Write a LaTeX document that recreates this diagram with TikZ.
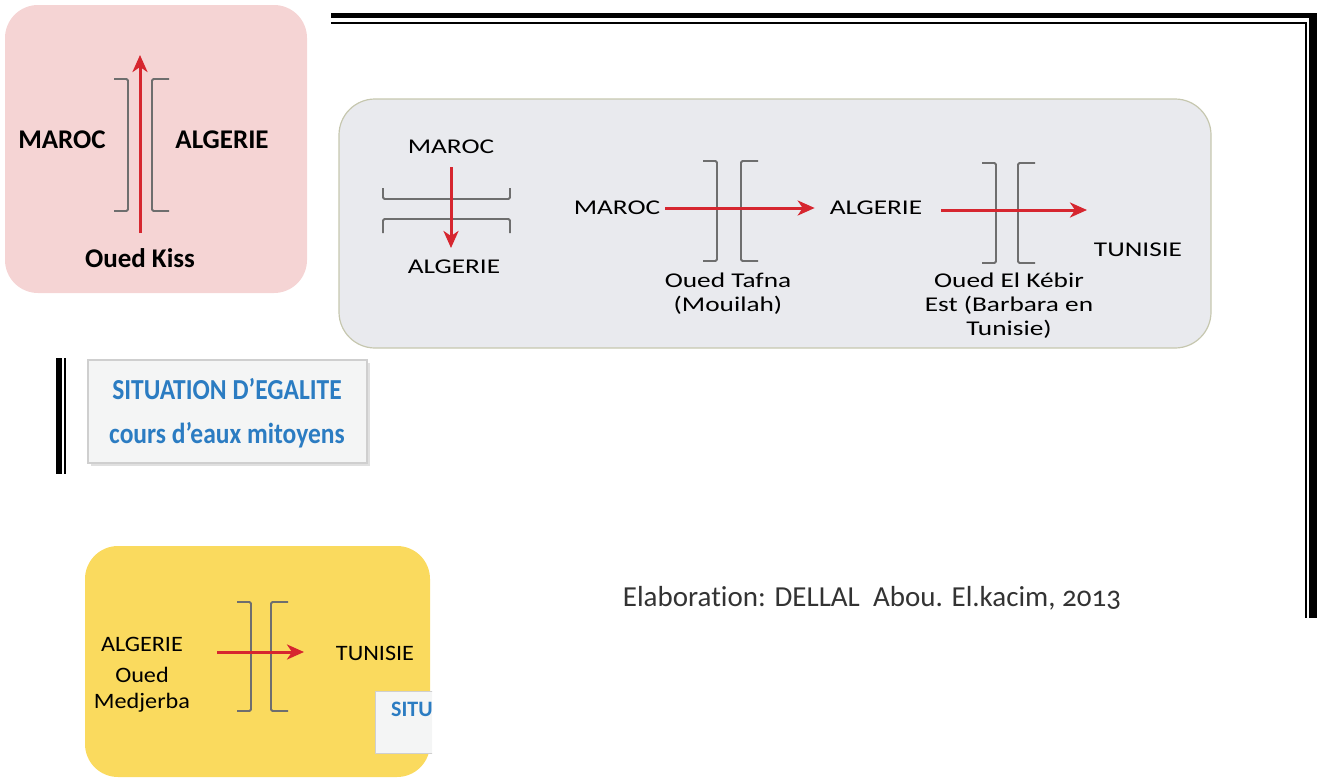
\documentclass[tikz,border=0pt]{standalone}
\usepackage{fontspec}
\setmainfont[Ligatures=CommonOff]{Carlito}
\newfontfamily\widefont[FakeStretch=1.3,Ligatures=CommonOff]{Carlito}
\newfontfamily\yellowfont[FakeStretch=1.1,Ligatures=CommonOff]{Carlito}
\newfontfamily\narrowfont[FakeStretch=0.88,Ligatures=CommonOff]{Carlito}
\newfontfamily\oldnumfont[Numbers=OldStyle,Ligatures=CommonOff]{Carlito}
\usetikzlibrary{arrows.meta}
\definecolor{kisspink}{HTML}{F5D4D4}
\definecolor{panelgrey}{HTML}{E9EAEE}
\definecolor{panelrim}{HTML}{C6C7AF}
\definecolor{sunyellow}{HTML}{FADA5E}
\definecolor{riverred}{HTML}{D6262F}
\definecolor{bankgrey}{HTML}{6E6E6E}
\definecolor{titleblue}{HTML}{2B7CC2}
\definecolor{cardwhite}{HTML}{F4F5F5}
\definecolor{cardrim}{HTML}{CFCFCF}
\begin{document}
\begin{tikzpicture}[x=1pt,y=-1pt,
  panel/.style={rounded corners=33pt},
  bold/.style={font=\bfseries\fontsize{27}{30}\selectfont,inner sep=0pt},
  lbl/.style={font=\widefont\fontsize{21}{24}\selectfont,align=center,inner sep=0pt},
  ylbl/.style={font=\yellowfont\fontsize{22}{26}\selectfont,align=center,inner sep=0pt},
  title/.style={font=\narrowfont\bfseries\fontsize{29}{32}\selectfont,text=titleblue,inner sep=0pt},
  flow/.style={draw=riverred,line width=3pt,-{Stealth[length=17pt,width=15pt,inset=5pt]}},
  bank/.style={draw=bankgrey,line width=1.8pt,rounded corners=1.5pt},
  card/.style={fill=cardwhite,draw=cardrim,line width=1.5pt}]
\useasboundingbox (0,0) rectangle (1319,779);
\fill (331,12.5) rectangle (1317,17.5);
\fill (1309,12.5) rectangle (1317,618);
\fill (331,21.5) rectangle (1307,23.5);
\fill (1305,21.5) rectangle (1307,618);
\fill (56,358) rectangle (62,474);
\fill (63.5,358) rectangle (65.5,474);
\fill[kisspink,panel] (5,5) rectangle (307,293);
\filldraw[fill=panelgrey,draw=panelrim,line width=1.2pt,rounded corners=36pt] (339,99) rectangle (1211,348);
\fill[sunyellow,panel] (85,546) rectangle (430,777);
\foreach \l/\r/\t/\b in {128/152/79/211,717/741/161/261,996/1018/163/263,251/271/602/711}{
  \draw[bank] (\l-14,\t) -- (\l,\t) -- (\l,\b) -- (\l-14,\b);
  \draw[bank] (\r+17,\t) -- (\r,\t) -- (\r,\b) -- (\r+17,\b);
}
\draw[bank] (383,188) -- (383,199) -- (510,199) -- (510,188);
\draw[bank] (383,233) -- (383,219) -- (510,219) -- (510,233);
\node[bold] (kma) at (62,140) {MAROC};
\node[bold] (kal) at (222,140) {ALGERIE};
\node[bold] (kiss) at (140,258) {Oued Kiss};
\coordinate (kisstop) at (140,55);
\node[lbl] (gma1) at (451,147) {MAROC};
\node[lbl] (gal1) at (454,267) {ALGERIE};
\coordinate (m1foot) at (451,167);
\coordinate (a1head) at (451,248);
\node[lbl] (gma2) at (617,208) {MAROC};
\node[lbl] (gal2) at (876,208) {ALGERIE};
\node[lbl] (gtu) at (1138,250) {TUNISIE};
\node[lbl] (tafna) at (728,293.5) {Oued Tafna\\(Mouilah)};
\node[lbl] (kebir) at (1009,306) {Oued El Kébir\\Est (Barbara en\\Tunisie)};
\coordinate (tueast) at (1087,210);
\coordinate (alwest) at (941,210);
\node[ylbl] (yal) at (142,644) {ALGERIE};
\node[ylbl] (youed) at (142,675) {Oued};
\node[ylbl] (ymed) at (142,703) {Medjerba};
\node[ylbl] (ytu) at (375,653) {TUNISIE};
\coordinate (yfrom) at (217,652);
\coordinate (yto) at (304,652);
\draw[flow] (kiss.north) ++(0,-15) coordinate (kissfoot) (kissfoot) -- (kisstop);
\draw[flow] (m1foot) -- (a1head);
\draw[flow] (gma2.east) ++(5,0) coordinate (m2east) (m2east) -- ([xshift=-15pt]gal2.west);
\draw[flow] (alwest) -- (tueast);
\draw[flow] (yfrom) -- (yto);
\fill[black!12] (91,363) rectangle (370,466);
\node[card,minimum width=279pt,minimum height=103pt,inner sep=0pt] (egal) at (227.5,411.5) {};
\node[title] (egal1) at (227,389) {SITUATION D’EGALITE};
\node[title] (egal2) at (227,435) {cours d’eaux mitoyens};
\begin{scope}
\clip (0,0) rectangle (432,779);
\node[card,line width=1pt,minimum width=70pt,minimum height=62pt,inner sep=0pt] (situ) at (410,722) {};
\node[font=\bfseries\fontsize{22}{24}\selectfont,text=titleblue,anchor=west,inner sep=0pt] (situtxt) at (391,709) {SITU};
\end{scope}
\node[font=\oldnumfont\fontsize{29}{32}\selectfont,text=black!80,inner sep=0pt] (elab) at (872,598) {Elaboration: DELLAL\ \ Abou. El.kacim, 2013};
\end{tikzpicture}
\end{document}
